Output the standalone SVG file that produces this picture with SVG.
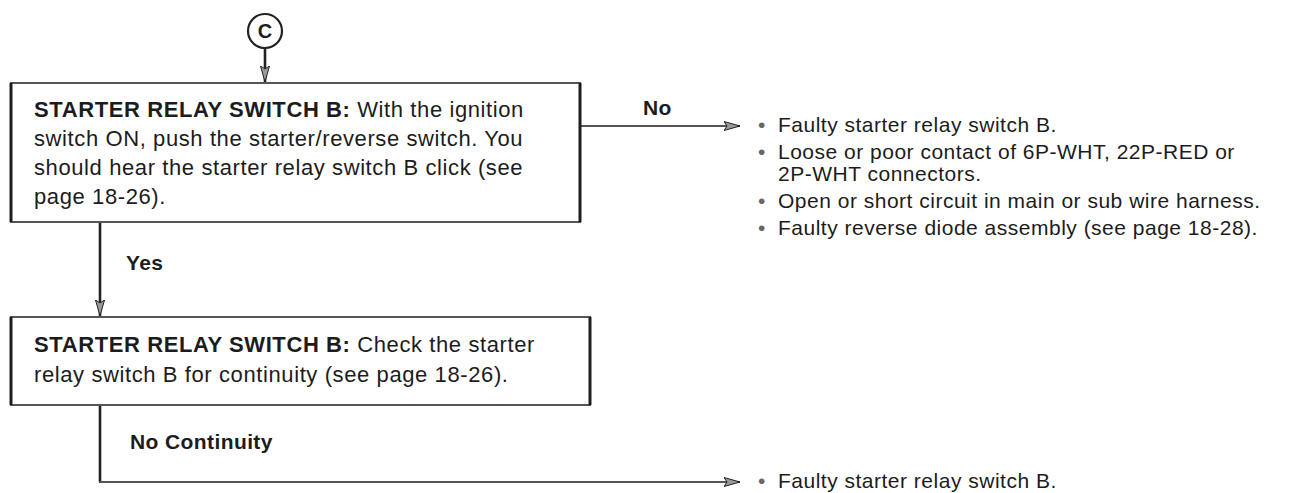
<svg xmlns="http://www.w3.org/2000/svg" width="1291" height="493" viewBox="0 0 1291 493">
<style>
.bg{fill:#fff}
.box{fill:#fff;stroke:#555;stroke-width:2}
.side{stroke:#1e1e1e;stroke-width:3}
.t{font-family:"Liberation Sans",Arial,sans-serif;font-size:22px;fill:#1c1c1c;letter-spacing:0.6px}
.l{font-family:"Liberation Sans",Arial,sans-serif;font-size:21px;fill:#1c1c1c;letter-spacing:0.5px}
.b{font-weight:bold}
.lbl{font-family:"Liberation Sans",Arial,sans-serif;font-size:21px;font-weight:bold;fill:#1c1c1c;letter-spacing:0.4px}
.v{fill:none;stroke:#222;stroke-width:2.6}
.h{fill:none;stroke:#555;stroke-width:2}
.bul{fill:#666}
</style>
<defs>
<marker id="ah" viewBox="0 0 16 10" refX="16" refY="5" markerWidth="16" markerHeight="10" markerUnits="userSpaceOnUse" orient="auto">
<path d="M0,0.5 L16,5 L0,9.5 L3,5 Z" fill="#999" stroke="#222" stroke-width="1"/>
</marker>
</defs>
<rect class="bg" x="0" y="0" width="1291" height="493"/>
<g id="connectors">
<path class="v" d="M265,48 V82" marker-end="url(#ah)"/>
<path class="h" d="M581,126 H740" marker-end="url(#ah)"/>
<path class="v" d="M100,222 V316" marker-end="url(#ah)"/>
<path class="v" d="M100,405 V482"/>
<path class="h" d="M99,482 H740" marker-end="url(#ah)"/>
<text class="lbl" x="643" y="115">No</text>
<text class="lbl" x="126" y="270">Yes</text>
<text class="lbl" x="130" y="449">No Continuity</text>
</g>
<g id="node-c">
<circle cx="265" cy="31" r="17" fill="#fff" stroke="#222" stroke-width="2.2"/>
<text x="265" y="38" text-anchor="middle" style="font-family:'Liberation Sans',Arial,sans-serif;font-size:20px;font-weight:bold;fill:#1c1c1c">C</text>
</g>
<g id="node-check1">
<rect class="box" x="11" y="83" width="569" height="139"/>
<line class="side" x1="11" y1="83" x2="11" y2="222"/>
<line class="side" x1="580" y1="83" x2="580" y2="222"/>
<text class="t" x="34" y="117"><tspan class="b">STARTER RELAY SWITCH B:</tspan> With the ignition</text>
<text class="t" x="34" y="146">switch ON, push the starter/reverse switch. You</text>
<text class="t" x="34" y="175">should hear the starter relay switch B click (see</text>
<text class="t" x="34" y="204">page 18-26).</text>
</g>
<g id="node-causes1">
<text class="l" x="758" y="132"><tspan class="bul">•</tspan><tspan x="778">Faulty starter relay switch B.</tspan></text>
<text class="l" x="758" y="159"><tspan class="bul">•</tspan><tspan x="778">Loose or poor contact of 6P-WHT, 22P-RED or</tspan></text>
<text class="l" x="778" y="181">2P-WHT connectors.</text>
<text class="l" x="758" y="208"><tspan class="bul">•</tspan><tspan x="778">Open or short circuit in main or sub wire harness.</tspan></text>
<text class="l" x="758" y="235"><tspan class="bul">•</tspan><tspan x="778">Faulty reverse diode assembly (see page 18-28).</tspan></text>
</g>
<g id="node-check2">
<rect class="box" x="11" y="317" width="579" height="88"/>
<line class="side" x1="11" y1="317" x2="11" y2="405"/>
<line class="side" x1="590" y1="317" x2="590" y2="405"/>
<text class="t" x="34" y="352"><tspan class="b">STARTER RELAY SWITCH B:</tspan> Check the starter</text>
<text class="t" x="34" y="382">relay switch B for continuity (see page 18-26).</text>
</g>
<g id="node-causes2">
<text class="l" x="758" y="488"><tspan class="bul">•</tspan><tspan x="778">Faulty starter relay switch B.</tspan></text>
</g>
</svg>
